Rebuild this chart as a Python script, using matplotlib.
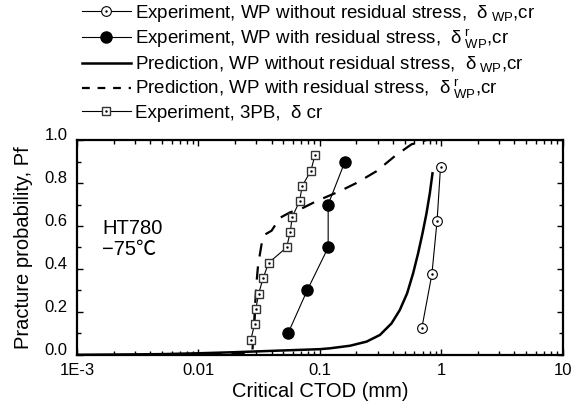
import numpy as np
import matplotlib
matplotlib.use("Agg")
import matplotlib.pyplot as plt
from matplotlib.lines import Line2D
from matplotlib.ticker import LogLocator, MultipleLocator, FixedFormatter, FixedLocator
from matplotlib.transforms import ScaledTranslation

plt.rcParams['font.family'] = ['Liberation Sans', 'Noto Sans CJK JP', 'DejaVu Sans']
plt.rcParams['mathtext.fontset'] = 'custom'
plt.rcParams['mathtext.rm'] = 'Liberation Sans'
plt.rcParams['mathtext.it'] = 'Liberation Sans:italic'

# --- data ---
# Experiment, WP without residual stress
exp_wp_x = [0.691, 0.836, 0.923, 0.985]
exp_wp_y = [0.125, 0.375, 0.625, 0.875]

# Experiment, WP with residual stress
exp_wpr_x = [0.0546, 0.0785, 0.117, 0.117, 0.161]
exp_wpr_y = [0.1, 0.3, 0.5, 0.7, 0.9]

# Experiment, 3PB
exp_3pb_x = [0.027, 0.029, 0.0297, 0.0313, 0.0341, 0.0378, 0.0532,
             0.057, 0.0592, 0.068, 0.0715, 0.0843, 0.091]
exp_3pb_y = [1/14, 2/14, 3/14, 4/14, 5/14, 6/14, 7/14,
             8/14, 9/14, 10/14, 11/14, 12/14, 13/14]

# Prediction, WP without residual stress
pred_wp_x = [0.001, 0.002, 0.005, 0.01, 0.02, 0.044, 0.1, 0.121, 0.177,
             0.242, 0.312, 0.389, 0.455, 0.523, 0.586, 0.644, 0.70,
             0.755, 0.804, 0.846]
pred_wp_y = [0.001, 0.002, 0.004, 0.008, 0.013, 0.02, 0.027, 0.031, 0.043,
             0.062, 0.093, 0.147, 0.209, 0.287, 0.38, 0.473, 0.566,
             0.659, 0.752, 0.845]

# Prediction, WP with residual stress
pred_wpr_x = [0.012, 0.018, 0.024, 0.0278, 0.0284, 0.0292, 0.0300, 0.031,
              0.0331, 0.0352, 0.040, 0.0469, 0.0566, 0.073, 0.094, 0.146,
              0.2, 0.293, 0.414, 0.568, 0.757, 1.0]
pred_wpr_y = [0.004, 0.007, 0.01, 0.015, 0.1, 0.22, 0.33, 0.42,
              0.515, 0.56, 0.578, 0.638, 0.663, 0.685, 0.716, 0.762,
              0.8, 0.855, 0.925, 0.98, 1.0, 1.0]

x_ticks = [1e-3, 1e-2, 1e-1, 1, 10]
x_tick_labels = ["1E-3", "0.01", "0.1", "1", "10"]
y_ticks = [0.0, 0.2, 0.4, 0.6, 0.8, 1.0]
y_tick_labels = ["0.0", "0.2", "0.4", "0.6", "0.8", "1.0"]

labels = [
    r"Experiment, WP without residual stress,  $\mathrm{δ}_{\mathrm{\ WP}}$,cr",
    r"Experiment, WP with residual stress,  $\mathrm{δ}^{\mathrm{\ r}}_{\mathrm{\ WP}}$,cr",
    r"Prediction, WP without residual stress,  $\mathrm{δ}_{\mathrm{\ WP}}$,cr",
    r"Prediction, WP with residual stress,  $\mathrm{δ}^{\mathrm{\ r}}_{\mathrm{\ WP}}$,cr",
    r"Experiment, 3PB,  δ cr",
]

fig = plt.figure(figsize=(5.76, 4.07), dpi=100)
ax = fig.add_axes([0.1337, 0.1278, 0.8433, 0.5282])

ax.plot(pred_wp_x, pred_wp_y, color="black", lw=1.8, zorder=2)
ax.plot(pred_wpr_x, pred_wpr_y, color="black", lw=1.6, dashes=(6, 4.5), zorder=2)

ax.plot(exp_3pb_x, exp_3pb_y, color="black", lw=0.8, marker="s", ms=6,
        mfc="white", mec="#333333", mew=1.0, zorder=3)
ax.plot(exp_3pb_x, exp_3pb_y, ls="none", marker=".", ms=1.5, color="black", zorder=4)

ax.plot(exp_wpr_x, exp_wpr_y, color="black", lw=0.8, marker="o", ms=8,
        mfc="black", mec="black", zorder=3)

ax.plot(exp_wp_x, exp_wp_y, color="black", lw=0.8, marker="o", ms=7,
        mfc="white", mec="black", mew=0.8, zorder=3)
ax.plot(exp_wp_x, exp_wp_y, ls="none", marker=".", ms=1.5, color="black", zorder=4)

ax.set_xscale("log")
ax.set_xlim(1e-3, 10)
ax.set_ylim(0, 1.0)
ax.xaxis.set_major_locator(FixedLocator(x_ticks))
ax.xaxis.set_major_formatter(FixedFormatter(x_tick_labels))
ax.xaxis.set_minor_locator(LogLocator(base=10, subs=np.arange(2, 10)))
ax.yaxis.set_major_locator(FixedLocator(y_ticks))
ax.yaxis.set_major_formatter(FixedFormatter(y_tick_labels))
ax.yaxis.set_minor_locator(MultipleLocator(0.1))

ax.tick_params(which="both", direction="in", top=True, right=True, width=1.0)
ax.tick_params(which="major", length=4.5, labelsize=12, pad=7)
ax.tick_params(which="minor", length=2.8)
ax.tick_params(axis="x", which="major", pad=6)
for sp in ax.spines.values():
    sp.set_linewidth(1.6)

up = ScaledTranslation(0, 0.06, fig.dpi_scale_trans)
for lbl in ax.get_yticklabels():
    lbl.set_transform(lbl.get_transform() + up)

ax.set_xlabel("Critical CTOD (mm)", fontsize=14.5, labelpad=3)
ax.set_ylabel("Practure probability, Pf", fontsize=14.5, labelpad=8)

ax.text(0.052, 0.54, "HT780\n\u221275\u2103", transform=ax.transAxes,
        fontsize=14.5, va="center", ha="left", linespacing=1.15)

handles = [
    (Line2D([], [], color="black", lw=0.8, marker="o", ms=7, mfc="white", mec="black", mew=0.8),
     Line2D([], [], ls="none", marker=".", ms=1.5, color="black")),
    Line2D([], [], color="black", lw=0.8, marker="o", ms=8, mfc="black", mec="black"),
    Line2D([], [], color="black", lw=1.8),
    Line2D([], [], color="black", lw=1.6, dashes=(3.5, 3.5)),
    (Line2D([], [], color="black", lw=0.8, marker="s", ms=6, mfc="white", mec="#333333", mew=1.0),
     Line2D([], [], ls="none", marker=".", ms=1.5, color="black")),
]
fig.legend(handles, labels, loc="upper left", bbox_to_anchor=(0.142, 0.993),
           frameon=False, fontsize=13.5, handlelength=2.6, handletextpad=0.25,
           labelspacing=0.18, borderpad=0.0, borderaxespad=0.0)

fig.savefig("out.png", dpi=100)
